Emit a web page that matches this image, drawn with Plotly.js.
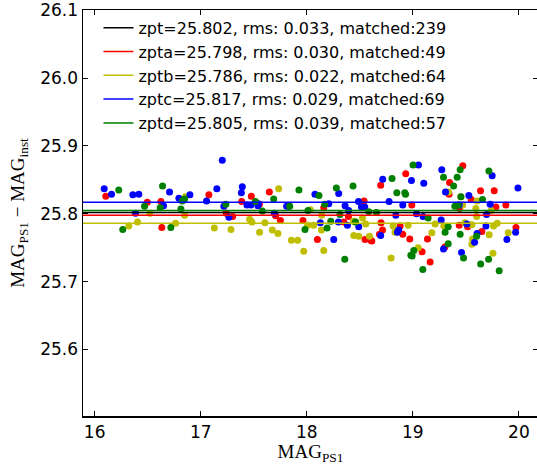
<!DOCTYPE html>
<html>
<head>
<meta charset="utf-8">
<script src="https://cdn.plot.ly/plotly-3.0.1.min.js"></script>
<style>
html,body{margin:0;padding:0;overflow:hidden;background:#fff;}
#chart{width:538px;height:465px;}
</style>
</head>
<body>
<div id="chart"></div>
<script>
// Zero-point lines
var zptNames = ["zpt", "zpta", "zptb", "zptc", "zptd"];
var zptValues = [25.802, 25.798, 25.786, 25.817, 25.805];
var zptRms = ["0.033", "0.030", "0.022", "0.029", "0.039"];
var zptMatched = [239, 49, 64, 69, 57];
var zptColors = ["#000000", "#ff0000", "#bfbf00", "#0000ff", "#008000"];

// Red points (a)
var redX = [16.105,16.496,16.624,16.633,17.077,17.241,17.301,17.386,17.477,17.553,17.647,17.706,17.751,17.964,18.100,18.160,18.348,18.393,18.540,18.549,18.603,18.697,18.933,19.346,18.990,18.700,18.880,18.714,18.905,18.685,18.613,18.971,19.138,19.302,19.087,19.163,19.471,19.342,19.638,19.767,19.550,19.440,19.783,19.877,19.437,19.516,19.972,19.651];
var redY = [25.826,25.817,25.818,25.780,25.828,25.801,25.796,25.818,25.826,25.814,25.832,25.797,25.790,25.790,25.762,25.809,25.788,25.796,25.819,25.762,25.761,25.842,25.859,25.846,25.813,25.787,25.782,25.776,25.770,25.770,25.760,25.763,25.763,25.751,25.744,25.729,25.871,25.829,25.834,25.834,25.821,25.808,25.810,25.813,25.783,25.781,25.780,25.774];

// Yellow points (b)
var yellowX = [16.322,16.404,16.520,16.763,16.848,16.854,17.128,17.285,17.461,17.483,17.555,17.605,17.675,17.728,17.735,18.008,17.855,17.914,17.971,18.034,18.065,18.138,18.141,18.160,18.440,18.459,18.443,18.490,18.525,18.556,18.591,18.814,18.955,19.210,19.292,18.832,19.179,19.050,18.795,19.337,19.453,19.606,19.469,19.594,19.601,19.739,19.490,19.556,19.761,19.795,19.720,19.899,19.563,19.556,19.755];
var yellowY = [25.782,25.788,25.801,25.786,25.798,25.825,25.779,25.777,25.792,25.788,25.773,25.787,25.776,25.771,25.837,25.783,25.761,25.761,25.745,25.806,25.783,25.776,25.798,25.746,25.789,25.788,25.768,25.767,25.794,25.785,25.767,25.782,25.783,25.785,25.782,25.773,25.772,25.750,25.735,25.832,25.825,25.819,25.813,25.808,25.796,25.805,25.787,25.784,25.782,25.786,25.769,25.772,25.763,25.755,25.742];

// Blue points (c)
var blueX = [16.090,16.159,16.360,16.416,16.385,16.706,16.649,16.794,17.203,16.898,17.055,17.152,17.218,17.266,17.392,17.383,17.436,17.473,17.543,17.539,17.694,17.810,17.832,18.077,18.128,18.207,18.301,18.361,18.395,18.298,18.383,18.254,18.490,18.487,18.515,18.547,18.716,18.987,19.053,19.103,19.273,19.308,18.776,18.905,18.839,19.034,19.097,19.267,18.867,18.855,18.697,19.289,19.748,19.991,19.528,19.437,19.729,19.695,19.509,19.689,19.606,19.969,19.582,19.887,19.459];
var blueY = [25.837,25.829,25.828,25.829,25.801,25.832,25.812,25.823,25.879,25.828,25.819,25.837,25.811,25.795,25.840,25.831,25.813,25.813,25.815,25.812,25.801,25.811,25.811,25.829,25.787,25.815,25.830,25.812,25.805,25.788,25.783,25.762,25.781,25.818,25.810,25.810,25.851,25.849,25.872,25.845,25.865,25.832,25.818,25.813,25.798,25.800,25.796,25.791,25.776,25.773,25.768,25.748,25.856,25.838,25.827,25.813,25.814,25.799,25.785,25.782,25.771,25.773,25.758,25.762,25.743];

// Green points (d)
var greenX = [16.227,16.265,16.470,16.640,16.618,16.718,16.826,16.848,16.813,17.237,17.515,17.581,17.688,17.926,17.839,17.983,18.011,18.115,18.169,18.226,18.191,18.279,18.436,18.313,18.358,18.459,18.584,18.804,18.849,18.924,18.931,19.002,19.289,18.657,19.144,19.333,19.304,19.333,19.009,18.981,18.993,19.094,19.446,19.418,19.384,19.453,19.717,19.657,19.396,19.427,19.446,19.601,19.478,19.714,19.639,19.814];
var greenY = [25.835,25.777,25.811,25.841,25.809,25.780,25.819,25.822,25.807,25.814,25.818,25.804,25.822,25.835,25.811,25.777,25.805,25.827,25.814,25.789,25.779,25.838,25.841,25.799,25.733,25.788,25.803,25.852,25.831,25.831,25.829,25.872,25.854,25.802,25.794,25.781,25.773,25.756,25.746,25.739,25.738,25.718,25.865,25.854,25.841,25.825,25.863,25.821,25.811,25.813,25.770,25.767,25.735,25.733,25.726,25.716];

var xRange = [15.89, 20.18];
var yRange = [25.502, 26.1004];
var xTicks = [16, 17, 18, 19, 20];
var yTicks = [25.6, 25.7, 25.8, 25.9, 26.0, 26.1];
var yTickText = ["25.6", "25.7", "25.8", "25.9", "26.0", "26.1"];

var pointSets = [
  {x: redX, y: redY, c: zptColors[1]},
  {x: yellowX, y: yellowY, c: zptColors[2]},
  {x: blueX, y: blueY, c: zptColors[3]},
  {x: greenX, y: greenY, c: zptColors[4]}
];

var traces = [];
pointSets.forEach(function(s){
  traces.push({
    type: "scatter", mode: "markers", x: s.x, y: s.y, showlegend: false,
    marker: {color: s.c, size: 7, line: {width: 0}}, hoverinfo: "skip"
  });
});
zptNames.forEach(function(n, i){
  traces.push({
    type: "scatter", mode: "lines",
    x: xRange, y: [zptValues[i], zptValues[i]],
    name: n + "=" + zptValues[i].toFixed(3) + ", rms: " + zptRms[i] + ", matched:" + zptMatched[i],
    line: {color: zptColors[i], width: 1.5}
  });
});

var axisCommon = {
  showline: true, linecolor: "#000", linewidth: 1.5, mirror: "allticks",
  ticks: "inside", ticklen: 5, tickwidth: 1, tickcolor: "#000",
  showgrid: false, zeroline: false,
  tickfont: {family: "DejaVu Sans", size: 17, color: "#000"}
};

var layout = {
  width: 538, height: 465,
  margin: {l: 83, r: 0, t: 10, b: 49},
  paper_bgcolor: "#fff", plot_bgcolor: "#fff",
  xaxis: Object.assign({}, axisCommon, {
    range: xRange, tickvals: xTicks, ticktext: xTicks.map(String),
    title: {text: "MAG<sub>PS1</sub>", font: {family: "Liberation Serif", size: 19, color: "#000"}, standoff: 8},
    automargin: false
  }),
  yaxis: Object.assign({}, axisCommon, {
    range: yRange, tickvals: yTicks, ticktext: yTickText,
    title: {text: "MAG<sub>PS1</sub> \u2212 MAG<sub>inst</sub>", font: {family: "Liberation Serif", size: 19, color: "#000"}, standoff: 10},
    automargin: false
  }),
  legend: {
    x: 0.034, y: 0.998, xanchor: "left", yanchor: "top",
    bgcolor: "rgba(0,0,0,0)", borderwidth: 0,
    font: {family: "DejaVu Sans", size: 16, color: "#000"},
    tracegroupgap: 0
  },
  showlegend: true
};

Plotly.newPlot("chart", traces, layout, {displayModeBar: false, staticPlot: true});
</script>
</body>
</html>
